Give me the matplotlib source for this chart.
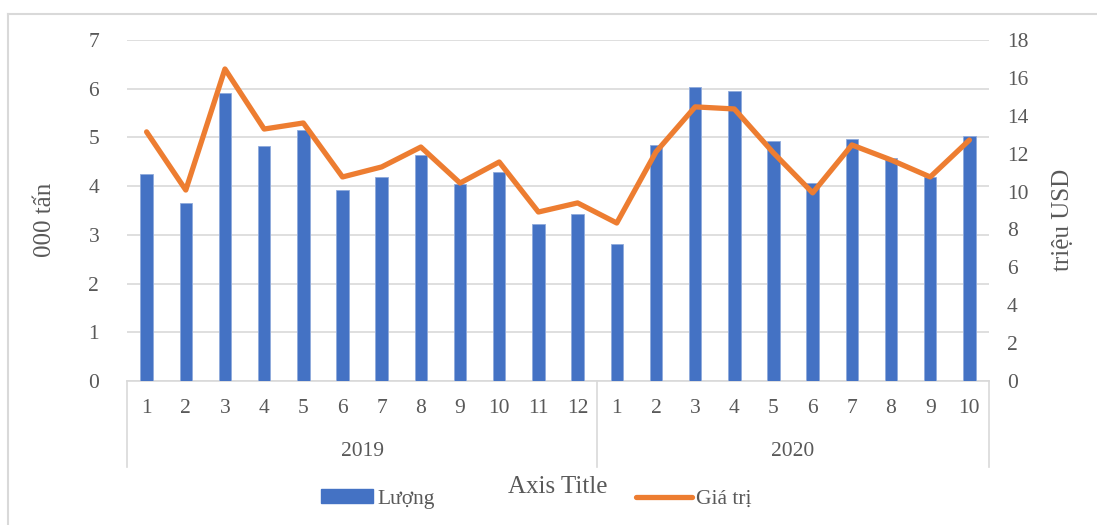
import matplotlib.pyplot as plt
from matplotlib.lines import Line2D
from matplotlib.patches import Patch
import matplotlib.transforms as mtransforms

plt.rcParams['font.family'] = ['Liberation Serif', 'DejaVu Serif']

# Monthly data, Jan 2019 - Oct 2020
years = ["2019", "2020"]
months_2019 = ["1", "2", "3", "4", "5", "6", "7", "8", "9", "10", "11", "12"]
months_2020 = ["1", "2", "3", "4", "5", "6", "7", "8", "9", "10"]
volume = [4.25, 3.65, 5.91, 4.83, 5.15, 3.92, 4.19, 4.64, 4.05, 4.29, 3.22, 3.43,
          2.81, 4.85, 6.04, 5.96, 4.93, 4.07, 4.97, 4.58, 4.19, 5.03]      # 000 tấn
value = [13.15, 10.08, 16.47, 13.3, 13.62, 10.77, 11.3, 12.35, 10.45, 11.56, 8.92, 9.4,
         8.34, 12.09, 14.47, 14.36, 12.04, 9.93, 12.46, 11.67, 10.77, 12.72]  # triệu USD

BLUE = "#4472C4"
ORANGE = "#ED7D31"
TEXT = "#595959"
GRID = "#D9D9D9"

W, H = 1097, 525
fig = plt.figure(figsize=(W / 100, H / 100), dpi=100)

# outer chart frame (left and top edges)
fig.add_artist(Line2D([8 / W, 8 / W], [0, 1 - 14 / H], color=GRID, lw=1.5,
                      transform=fig.transFigure))
fig.add_artist(Line2D([8 / W, 1], [1 - 14 / H, 1 - 14 / H], color=GRID, lw=1.5,
                      transform=fig.transFigure))

left, right, top, bottom = 127, 989, 40, 381
ax = fig.add_axes([left / W, 1 - bottom / H, (right - left) / W, (bottom - top) / H])
ax2 = ax.twinx()

months = months_2019 + months_2020
x = list(range(len(months)))

ax.bar(x, volume, width=0.32, color=BLUE, edgecolor="#8FAADC", linewidth=0.6, zorder=3)
ax2.plot(x, value, color=ORANGE, lw=3.8, solid_capstyle="round",
         solid_joinstyle="round", zorder=4)

ax.set_xlim(-0.5, len(months) - 0.5)
ax.set_ylim(0, 7)
ax2.set_ylim(0, 18)
ax.set_yticks(range(0, 8))
ax2.set_yticks(range(0, 19, 2))

ax.yaxis.grid(True, color=GRID, lw=1.2, zorder=0)
ax.set_axisbelow(True)
ax.set_zorder(ax2.get_zorder() - 1)
ax.patch.set_visible(False)

for a in (ax, ax2):
    for s in a.spines.values():
        s.set_visible(False)
    a.tick_params(axis="y", length=0, labelsize=15.5, labelcolor=TEXT)
ax.tick_params(axis="y", pad=20)
ax2.tick_params(axis="y", pad=13)

ax.spines["bottom"].set_visible(True)
ax.spines["bottom"].set_color(GRID)
ax.spines["bottom"].set_linewidth(1.2)

ax.set_xticks(x)
ax.set_xticklabels(months)
ax.tick_params(axis="x", length=0, labelsize=15.5, labelcolor=TEXT, pad=13)

# category group separators and year labels
trans = mtransforms.blended_transform_factory(ax.transData, ax.transAxes)
sep_bottom = -(467 - bottom) / (bottom - top)
n19 = len(months_2019)
for xs in (-0.5, n19 - 0.5, len(months) - 0.5):
    ax.add_line(Line2D([xs, xs], [0, sep_bottom], color=GRID, lw=1.2,
                       transform=trans, clip_on=False))
year_y = -(452 - bottom) / (bottom - top)
ax.text((n19 - 1) / 2, year_y, years[0], transform=trans, ha="center", va="center",
        fontsize=15.5, color=TEXT)
ax.text(n19 + (len(months_2020) - 1) / 2, year_y, years[1], transform=trans,
        ha="center", va="center", fontsize=15.5, color=TEXT)

fig.text(558 / W, 1 - 487 / H, "Axis Title", ha="center", va="center",
         fontsize=18, color=TEXT)
fig.text(45 / W, 1 - 220 / H, "000 tấn", ha="center", va="center", rotation=90,
         fontsize=18, color=TEXT)
fig.text(1063 / W, 1 - 220 / H, "triệu USD", ha="center", va="center", rotation=90,
         fontsize=18, color=TEXT)

# legend
bar_handle = Patch(facecolor=BLUE, edgecolor=BLUE)
line_handle = Line2D([0], [0], color=ORANGE, lw=3.8, solid_capstyle="round")
common = dict(loc="center left", frameon=False, fontsize=15.5, labelcolor=TEXT,
              borderpad=0, borderaxespad=0, handletextpad=0.2)
fig.legend(handles=[bar_handle], labels=["Lượng"],
           bbox_to_anchor=(321 / W, 1 - 499 / H), handlelength=2.4,
           handleheight=0.6, **common)
fig.legend(handles=[line_handle], labels=["Giá trị"],
           bbox_to_anchor=(636 / W, 1 - 499 / H), handlelength=2.6, **common)

fig.savefig("out.png", dpi=100)
